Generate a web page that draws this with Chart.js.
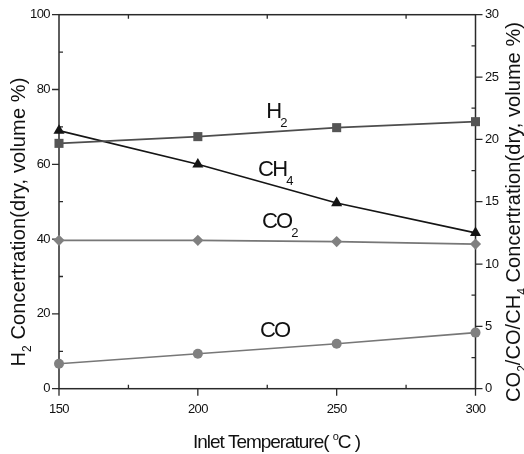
<!DOCTYPE html>
<html>
<head>
<meta charset="utf-8">
<script src="https://cdn.jsdelivr.net/npm/chart.js@4.4.0/dist/chart.umd.min.js"></script>
<style>
html, body { margin: 0; padding: 0; background: #fff; }
#wrap { width: 524px; height: 454px; }
</style>
</head>
<body>
<div id="wrap"><canvas id="gasChart" width="524" height="454"></canvas></div>
<script>
// inlet temperature (°C)
const temps = [150, 200, 250, 300];
// H2 on the left axis, the rest on the right axis (dry, volume %)
const h2 = [65.6, 67.4, 69.8, 71.4];
const ch4 = [20.7, 18.0, 14.9, 12.5];
const co2 = [11.9, 11.9, 11.8, 11.6];
const co = [2.0, 2.8, 3.6, 4.5];

const xTicks = [150, 200, 250, 300];
const xMinor = [175, 225, 275];
const leftTicks = [0, 20, 40, 60, 80, 100];
const leftMinor = [10, 30, 50, 70, 90];
const rightTicks = [0, 5, 10, 15, 20, 25, 30];
const rightMinor = [2.5, 7.5, 12.5, 17.5, 22.5, 27.5];

const FONT = '"Liberation Sans", Arial, sans-serif';

function pts(vals) {
  return temps.map((t, i) => ({ x: t, y: vals[i] }));
}

// text made of pieces, some of them sub/superscript
function richWidth(ctx, parts, size, spacing) {
  let w = 0;
  ctx.letterSpacing = spacing + 'px';
  parts.forEach(p => {
    const s = (p.sub || p.sup) ? Math.round(size * 0.58) : size;
    ctx.font = s + 'px ' + FONT;
    w += ctx.measureText(p.t).width;
  });
  return w;
}
function drawRich(ctx, parts, x, y, size, spacing, subDrop) {
  ctx.letterSpacing = spacing + 'px';
  ctx.textAlign = 'left';
  ctx.textBaseline = 'alphabetic';
  let cx = x;
  parts.forEach(p => {
    const s = (p.sub || p.sup) ? Math.round(size * 0.58) : size;
    ctx.font = s + 'px ' + FONT;
    const dy = p.sub ? size * subDrop : (p.sup ? -size * 0.42 : 0);
    ctx.fillText(p.t, cx, y + dy);
    cx += ctx.measureText(p.t).width;
  });
}
// centred on cx, tracking squeezed so the whole line is `span` px long
function drawRichSpan(ctx, parts, cx, y, size, span, subDrop) {
  const natural = richWidth(ctx, parts, size, 0);
  const count = parts.reduce((n, p) => n + p.t.length, 0);
  const spacing = (span - natural) / count;
  drawRich(ctx, parts, cx - span / 2, y, size, spacing, subDrop);
}

const axesPlugin = {
  id: 'originAxes',
  beforeDatasetsDraw(chart) {
    const ctx = chart.ctx;
    const a = chart.chartArea;
    const xs = chart.scales.x, yl = chart.scales.y, yr = chart.scales.y2;
    ctx.save();
    ctx.strokeStyle = '#2a2a2a';
    ctx.lineWidth = 1.5;
    ctx.strokeRect(a.left, a.top, a.right - a.left, a.bottom - a.top);

    ctx.lineWidth = 1.3;
    ctx.beginPath();
    xTicks.forEach(v => {
      const px = xs.getPixelForValue(v);
      ctx.moveTo(px, a.bottom); ctx.lineTo(px, a.bottom + 7);
    });
    xMinor.forEach(v => {
      const px = xs.getPixelForValue(v);
      ctx.moveTo(px, a.bottom); ctx.lineTo(px, a.bottom - 4);
      ctx.moveTo(px, a.top); ctx.lineTo(px, a.top + 4);
    });
    leftTicks.forEach(v => {
      const py = yl.getPixelForValue(v);
      ctx.moveTo(a.left, py); ctx.lineTo(a.left - 7, py);
    });
    leftMinor.forEach(v => {
      const py = yl.getPixelForValue(v);
      ctx.moveTo(a.left, py); ctx.lineTo(a.left + 4, py);
    });
    rightTicks.forEach(v => {
      const py = yr.getPixelForValue(v);
      ctx.moveTo(a.right, py); ctx.lineTo(a.right + 7, py);
    });
    rightMinor.forEach(v => {
      const py = yr.getPixelForValue(v);
      ctx.moveTo(a.right, py); ctx.lineTo(a.right - 4, py);
    });
    ctx.stroke();
    ctx.restore();
  },
  afterDraw(chart) {
    const ctx = chart.ctx;
    const a = chart.chartArea;
    const xs = chart.scales.x, yl = chart.scales.y, yr = chart.scales.y2;
    ctx.save();
    ctx.fillStyle = '#111';
    ctx.letterSpacing = '-0.6px';
    ctx.font = '13px ' + FONT;

    // tick labels
    ctx.textBaseline = 'middle';
    ctx.textAlign = 'right';
    leftTicks.forEach(v => ctx.fillText(String(v), a.left - 9, yl.getPixelForValue(v)));
    ctx.textAlign = 'left';
    rightTicks.forEach(v => ctx.fillText(String(v), a.right + 9.5, yr.getPixelForValue(v)));
    ctx.textAlign = 'center';
    ctx.textBaseline = 'alphabetic';
    xTicks.forEach(v => ctx.fillText(String(v), xs.getPixelForValue(v), a.bottom + 24));

    // axis titles
    const bottomTitle = [{ t: 'Inlet Temperature( ' }, { t: 'o', sup: true }, { t: 'C )' }];
    drawRichSpan(ctx, bottomTitle, 276.5, a.bottom + 59, 19, 167, 0.3);

    const leftTitle = [{ t: 'H' }, { t: '2', sub: true }, { t: ' Concertration(dry, volume %)' }];
    ctx.save();
    ctx.translate(25, 222);
    ctx.rotate(-Math.PI / 2);
    drawRichSpan(ctx, leftTitle, 0, 0, 20, 289, 0.3);
    ctx.restore();

    const rightTitle = [{ t: 'CO' }, { t: '2', sub: true }, { t: '/CO/CH' }, { t: '4', sub: true },
      { t: ' Concertration(dry, volume %)' }];
    ctx.save();
    ctx.translate(520, 212);
    ctx.rotate(-Math.PI / 2);
    drawRichSpan(ctx, rightTitle, 0, 0, 20, 380, 0.3);
    ctx.restore();

    // series names next to the lines
    const names = [
      { parts: [{ t: 'H' }, { t: '2', sub: true }], x: 224.6, y: 72.4, axis: yl },
      { parts: [{ t: 'CH' }, { t: '4', sub: true }], x: 221.7, y: 17.1, axis: yr },
      { parts: [{ t: 'CO' }, { t: '2', sub: true }], x: 223.1, y: 12.9, axis: yr },
      { parts: [{ t: 'CO' }], x: 222.4, y: 4.17, axis: yr }
    ];
    names.forEach(n => {
      drawRich(ctx, n.parts, xs.getPixelForValue(n.x), n.axis.getPixelForValue(n.y), 22, -1.8, 0.42);
    });
    ctx.restore();
  }
};

new Chart(document.getElementById('gasChart'), {
  type: 'line',
  data: {
    datasets: [
      {
        label: 'H2', data: pts(h2), yAxisID: 'y',
        borderColor: '#4d4d4d', backgroundColor: '#555', borderWidth: 1.6,
        pointStyle: 'rect', pointRadius: 6.4, pointBorderWidth: 0, pointBackgroundColor: '#555'
      },
      {
        label: 'CH4', data: pts(ch4), yAxisID: 'y2',
        borderColor: '#151515', backgroundColor: '#151515', borderWidth: 1.6,
        pointStyle: 'triangle', pointRadius: 6.4, pointBorderWidth: 0, pointBackgroundColor: '#151515'
      },
      {
        label: 'CO2', data: pts(co2), yAxisID: 'y2',
        borderColor: '#777', backgroundColor: '#808080', borderWidth: 1.6,
        pointStyle: 'rectRot', pointRadius: 5.6, pointBorderWidth: 0, pointBackgroundColor: '#808080'
      },
      {
        label: 'CO', data: pts(co), yAxisID: 'y2',
        borderColor: '#777', backgroundColor: '#808080', borderWidth: 1.6,
        pointStyle: 'circle', pointRadius: 5, pointBorderWidth: 0, pointBackgroundColor: '#808080'
      }
    ]
  },
  options: {
    responsive: false,
    animation: false,
    devicePixelRatio: 1,
    layout: { padding: { left: 59, right: 48.5, top: 14.7, bottom: 65.3 } },
    plugins: { legend: { display: false }, tooltip: { enabled: false } },
    elements: { line: { tension: 0 } },
    datasets: { line: { clip: false } },
    scales: {
      x: { type: 'linear', min: 150, max: 300, display: false },
      y: { min: 0, max: 100, display: false },
      y2: { min: 0, max: 30, display: false, position: 'right' }
    }
  },
  plugins: [axesPlugin]
});
</script>
</body>
</html>
